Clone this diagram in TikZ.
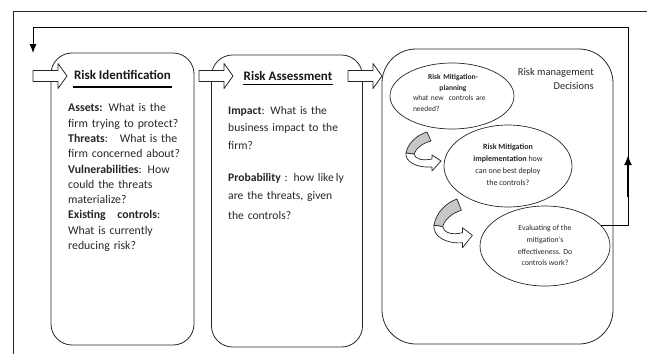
\documentclass[tikz,border=0pt]{standalone}
\usepackage{fontspec}
\setmainfont{Carlito}
\usetikzlibrary{positioning, shapes.geometric, arrows.meta, calc}
\tikzset{>=latex}
\tikzset{
    frame/.style={draw=black!85, line width=0.8pt},
    stagebox/.style={draw=black!85, line width=0.8pt, rounded corners=21pt},
    stagetitle/.style={font=\fontsize{13}{15}\selectfont\bfseries, inner sep=0.5pt, text=black!90},
    titleline/.style={line width=1.6pt},
    stagetext/.style={anchor=north west, inner sep=0pt, align=left, text=black!85},
    mitig/.style={draw=black!85, line width=0.7pt, ellipse, inner sep=0pt},
    mitigtext/.style={inner sep=0pt, align=center, text=black!85},
    stage arrow/.pic={
        \draw[fill=white, draw=black!85, line width=0.8pt]
            (0,-5.5) -- (25,-5.5) -- (25,-12.5) -- (34,0) -- (25,12.5) -- (25,5.5) -- (0,5.5) -- cycle;
    },
    turn arrow/.pic={
        \draw[fill=black!22, draw=black!85, line width=0.7pt]
            (0,0) -- (4,9) .. controls (-4,11) and (-11,16) .. (-13,22)
            -- (-21,21) .. controls (-19,11) and (-10,3) .. cycle;
        \draw[fill=white, draw=black!85, line width=0.7pt]
            (-21,21) .. controls (-22,30) and (-10,36) .. (5,35)
            -- (5,39) -- (14,29) -- (5,23) -- (5,27)
            .. controls (-5,29) and (-12,27) .. (-13,22) -- cycle;
    }
}

\begin{document}
\begin{tikzpicture}[x=1pt, y=-1pt, line join=round]
    \useasboundingbox (0,0) rectangle (647,354);
    \draw[frame] (647,11) -- (13,11) -- (13,354);

    % the three stages
    \node[stagebox, minimum width=143pt, minimum height=292pt] (ident) at (122.5,199) {};
    \node[stagebox, minimum width=151pt, minimum height=292pt] (assess) at (287,201) {};
    \node[stagebox, rounded corners=34pt, minimum width=231pt, minimum height=295pt] (decide) at (497.5,196.5) {};
    \pic at (33,76) {stage arrow};
    \pic at (199,76) {stage arrow};
    \pic at (348,76) {stage arrow};

    \node[stagetitle, anchor=base] (ident title) at (122.5,79.5) {Risk Identification};
    \draw[titleline] ([yshift=-7.5pt]ident title.base west) -- ([yshift=-7.5pt]ident title.base east);
    \node[stagetitle, anchor=base] (assess title) at (288,80.5) {Risk Assessment};
    \draw[titleline] ([yshift=-4pt]assess title.base west) -- ([yshift=-4pt]assess title.base east);

    \node[stagetext, text width=128pt, font=\fontsize{11.8}{15.3}\selectfont] (ident txt) at (68,103.5) {%
        \textbf{Assets:} What is the\\
        firm trying to protect?\\
        \textbf{Threats}:\ \ \ What is the\\
        firm concerned about?\\
        \textbf{Vulnerabilities}: How\\
        could the threats\\
        materialize?\\
        \textbf{Existing\ \ \ controls}:\\
        What is currently\\
        reducing risk?};
    \node[stagetext, text width=132pt, font=\fontsize{11.6}{17.7}\selectfont] (assess txt) at (228,106) {%
        \textbf{Impact}: What is the\\
        business impact to the\\
        firm?\\[14pt]
        \textbf{Probability} : how like\,ly\\
        are the threats, given\\[3pt]
        the controls?};

    % risk management decisions
    \node[anchor=north east, align=right, inner sep=0pt, text=black!85,
          font=\fontsize{10.5}{14}\selectfont] (decis) at (594,68) {Risk management\\ Decisions};

    \node[mitig, minimum width=124pt, minimum height=66pt] (plan) at (452,96) {};
    \node[mitigtext, text width=80pt, align=left, font=\fontsize{7.5}{10.7}\selectfont] (plan txt) at (453,93) {%
        \makebox[\linewidth]{\textbf{Risk Mitigation-}}\\
        \makebox[\linewidth]{\textbf{planning}}\\
        what new\ \ controls are\\
        needed?};
    \node[mitig, minimum width=128pt, minimum height=82pt] (impl) at (508,166) {};
    \node[mitigtext, font=\fontsize{8}{12}\selectfont] (impl txt) at (508,165) {%
        \textbf{Risk Mitigation}\\
        \textbf{implementation} how\\
        can one best deploy\\
        the controls?};
    \node[mitig, minimum width=130pt, minimum height=80pt] (eval) at (545,246) {};
    \node[mitigtext, font=\fontsize{7.8}{11.7}\selectfont] (eval txt) at (545,245.5) {%
        Evaluating of the\\
        mitigation's\\
        effectiveness. Do\\
        controls work?};

    \pic at (427,132) {turn arrow};
    \pic[xscale=1.1, yscale=1.25] at (457,199) {turn arrow};

    % feedback loop
    \coordinate (loopR) at (628,27);
    \coordinate (loopL) at (33,27);
    \coordinate (loopEnd) at (33,53);
    \coordinate (upFrom) at (628,197);
    \coordinate (upTo) at (628,155);
    \draw[line width=0.9pt, -{Latex[length=9pt,width=7pt]}] (eval.20) -| (loopR) -- (loopL) -- (loopEnd);
    \draw[line width=2.4pt, -{Latex[length=10pt,width=8pt]}] (upFrom) -- (upTo);
\end{tikzpicture}
\end{document}
